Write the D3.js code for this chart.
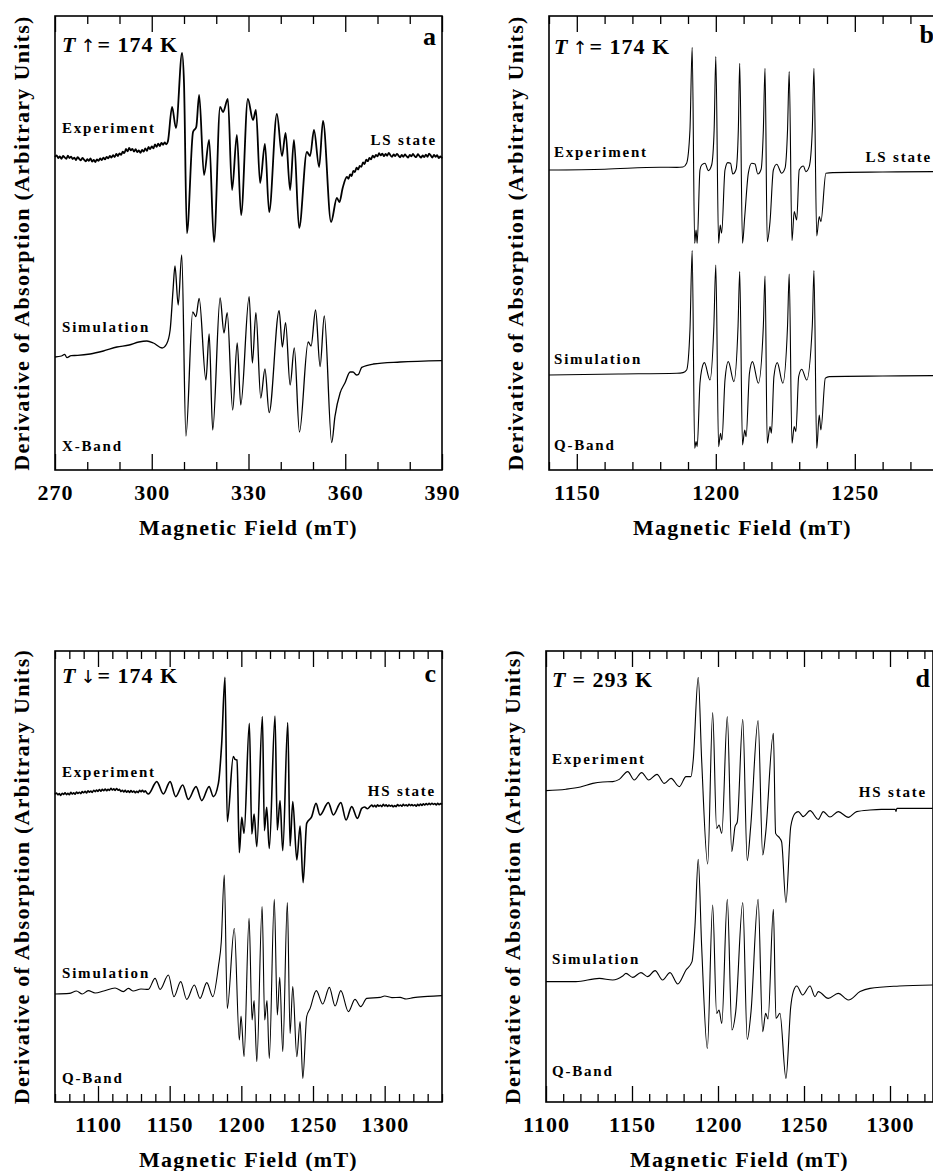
<!DOCTYPE html>
<html>
<head>
<meta charset="utf-8">
<script src="https://cdn.jsdelivr.net/npm/d3@7/dist/d3.min.js"></script>
<style>
  body { margin: 0; background: #fff; }
  svg text { font-family: "Liberation Serif", "Times New Roman", serif; font-weight: bold; fill: #000; }
</style>
</head>
<body>
<div class="epr_figure"></div>
<script>
// EPR spectra, [magnetic field (mT), derivative signal (arb. units, trace offset included)]

// a: X-band, T up = 174 K
var expA = [[270,156.5],[270.5,157.3],[271,156.0],[271.5,156.8],[272,155.6],[272.5,157.0],[273,156.3],[273.5,155.6],[274,157.2],[274.5,156.0],[275,156.7],[275.5,155.5],[276,156.2],[276.5,155.0],[277,156.4],[277.5,155.6],[278,154.8],[278.5,156.0],[279,155.2],[279.5,154.3],[280,155.4],[280.5,154.6],[281,155.8],[281.5,154.2],[282,155.0],[282.5,154.0],[283,155.3],[283.5,154.6],[284,155.8],[284.5,155.0],[285,156.2],[285.5,155.3],[286,156.6],[286.5,155.8],[287,157.0],[287.5,156.2],[288,157.4],[288.5,156.5],[289,158.0],[289.5,157.0],[290,158.3],[290.5,157.6],[291,159.2],[291.5,158.4],[292,160.5],[292.5,159.3],[293,161.0],[293.5,159.8],[294,160.6],[294.5,159.2],[295,160.4],[295.5,159.0],[296,159.8],[296.5,158.6],[297,160.0],[297.5,159.2],[298,160.8],[298.5,159.6],[299,161.5],[299.5,160.4],[300,161.8],[300.5,160.8],[301,162.8],[301.5,161.6],[302,163.2],[302.5,162.0],[303,163.6],[303.5,162.6],[304,163.8],[304.5,162.8],[305,164.2],[306.3,181.5],[307.5,171],[309.4,208.5],[310.0,193.5],[310.9,118.5],[312.8,169],[313.8,171.5],[314.7,187.5],[316.2,147.5],[317.8,165],[319.3,114],[321.2,181.5],[322.1,179],[323.6,185.5],[324.9,140],[326.4,167.5],[327.7,127.5],[329.8,185.5],[331.4,175],[332.3,180],[333.6,143.5],[335.1,163],[336.4,129],[338.8,178],[340.4,157],[341.5,168.5],[342.9,140],[344.1,165],[345.7,121],[348.1,159],[349.1,157],[350.3,170],[351.9,151.5],[353.1,174.5],[355.6,124],[357.4,136],[358.2,134],[359.2,141],[360.5,146.5],[361,145.6],[361.5,147.8],[362,147],[362.5,149.6],[363,149],[363.5,151.2],[364,150.2],[364.5,152],[365,151.6],[365.5,153.8],[366,153],[366.5,155.2],[367,154.4],[367.5,156],[368,155.3],[368.5,157.2],[369,156.2],[369.5,157.6],[370,156.8],[370.5,158.4],[371,157.3],[371.5,158.2],[372,156.9],[372.5,158],[373,157.1],[373.5,158.6],[374,157.4],[374.5,156.6],[375,157.8],[375.5,156.9],[376,158.1],[376.5,157.2],[377,156.3],[377.5,157.5],[378,156.6],[378.5,157.8],[379,156.9],[379.5,156.2],[380,157.6],[380.5,156.8],[381,158],[381.5,157],[382,156.4],[382.5,157.9],[383,157],[383.5,156.2],[384,157.3],[384.5,156.5],[385,157.7],[385.5,156.6],[386,158.2],[386.5,157.3],[387,156.2],[387.5,157.6],[388,156.6],[388.5,157.4],[389,156],[389.5,156.8],[390,155.8]];
var simA = [[270,56.5],[272,57],[273,57.8],[273.7,56.2],[275,57.2],[277,57.3],[280.9,58],[285,59.5],[289.2,61.5],[293,62.5],[296,64],[298.5,64.5],[300.5,63.5],[303.2,61],[304.6,63],[305.7,70],[306.6,90],[307.2,102],[308.2,82.5],[309.3,107.5],[310.6,17],[312.7,79],[313.7,76.7],[314.7,85.8],[316.8,45],[317.8,68],[318.9,20],[321.2,86],[322.4,68.5],[323.4,78.7],[325.1,30],[326.5,63.5],[327.6,32.5],[330.2,86.7],[331.2,53.5],[332.3,78.7],[333.8,36],[335.1,50.5],[336.4,28.7],[339.5,79.7],[340.5,61.5],[341.5,73.7],[342.9,42.5],[344.2,61],[345.8,19],[348.5,64],[349.4,62],[350.8,80],[352.2,51.7],[353.5,77],[355.8,13.7],[356.8,26.7],[358.4,38.5],[359.9,43.5],[361.5,49],[362.4,49],[363.5,47.5],[364.1,47.8],[365.1,51.3],[368.7,53],[377,54],[390,54.7]];

// b: Q-band, T up = 174 K
var expB = [[1140,150],[1160,150.4],[1180,151.4],[1186,151.3],[1188.2,151.5],[1189.5,153.4],[1190.7,170],[1191.5,211.4],[1192.4,113.4],[1192.9,120],[1193.3,113.4],[1194.3,150],[1194.9,152.5],[1196.1,153.4],[1197.3,149.7],[1198.5,152.5],[1199.4,170],[1200.0,206.7],[1201.0,113.4],[1201.6,122.5],[1202.1,118.4],[1203.3,150],[1204.3,153.7],[1205.3,153.4],[1206.1,148],[1207.3,150.4],[1208.1,170],[1208.6,203.4],[1209.6,113.4],[1210.4,126.7],[1211.7,148.4],[1212.9,153.4],[1214.1,153],[1215.1,148],[1216.3,150.4],[1217.1,170],[1217.7,200.9],[1218.5,114.2],[1219.5,124.2],[1220.7,150],[1221.9,152.9],[1223.7,148.4],[1224.9,150.9],[1225.8,170],[1226.4,199.2],[1227.4,114.7],[1228.2,129.2],[1229.1,125],[1230.0,150],[1231.5,152],[1232.4,149.2],[1233.6,151.7],[1234.7,170],[1235.3,200.9],[1236.3,117],[1237.2,126.7],[1237.8,124.2],[1239.6,148.4],[1242.1,148.7],[1260,149],[1280,149.2]];
var simB = [[1140,47.5],[1165,48],[1186,48.4],[1188.2,48.7],[1189.5,50],[1190.7,70],[1191.5,109.7],[1192.4,10.9],[1192.9,14.2],[1193.3,11.7],[1194.3,43.4],[1194.9,50],[1195.9,53.7],[1197.9,45],[1199.3,72],[1200.0,102.5],[1201.0,11.7],[1201.7,18.4],[1202.2,15],[1203.3,45],[1204.5,54.2],[1206.5,44.2],[1208.0,72],[1208.6,99.2],[1209.6,12.5],[1210.4,20],[1210.9,16.7],[1212.1,48.4],[1213.2,54.2],[1215.3,43.4],[1217.1,72],[1217.7,97],[1218.5,13.4],[1219.5,21.7],[1220.0,18.4],[1220.9,46.7],[1222.1,53.7],[1224.1,43.4],[1225.8,72],[1226.4,98],[1227.4,13.4],[1228.2,21.7],[1228.8,19.2],[1229.8,46.7],[1230.9,50.4],[1232.7,45],[1234.7,72],[1235.3,99.7],[1236.3,10.9],[1237.2,27.5],[1237.8,20],[1239.4,45.9],[1240.8,46.7],[1260,47],[1280,47.2]];

// c: Q-band, T down = 174 K
var expC = [[1070,153.8],[1071,154.5],[1072,153.6],[1073,154.2],[1074,153.3],[1075,154.4],[1076,153.8],[1077,154.6],[1078,153.7],[1079,154.3],[1080,153.6],[1081,154.8],[1082,154.0],[1083,154.6],[1084,153.9],[1085,155.0],[1086,154.3],[1087,154.9],[1088,154.2],[1089,155.2],[1090,154.6],[1091,155.3],[1092,154.5],[1093,155.6],[1094,154.9],[1095,155.5],[1096,154.8],[1097,155.9],[1098,155.2],[1099,156.0],[1100,155.3],[1101,156.2],[1102,155.4],[1103,156.3],[1104,155.7],[1105,156.5],[1106,155.6],[1107,156.4],[1108,155.8],[1109,156.9],[1110,156.0],[1111,156.6],[1112,155.8],[1113,156.7],[1114,155.9],[1115,156.3],[1116,155.2],[1117,155.9],[1118,155.0],[1119,155.8],[1120,154.9],[1121,155.6],[1122,154.8],[1123,155.7],[1124,154.9],[1125,155.5],[1126,154.6],[1127,155.4],[1128,154.7],[1129,155.8],[1130,155.1],[1131,155.9],[1132,155.0],[1133,155.6],[1134,154.6],[1135.1,154],[1141,160.2],[1145.6,154],[1150.3,160.2],[1154.2,152.7],[1159.1,158.5],[1163,151.3],[1168.4,157.7],[1172.4,150.7],[1177.5,157.7],[1180.5,152.7],[1184,159.3],[1186.3,179.3],[1188.6,212.3],[1190.2,140.2],[1194.4,172.7],[1195.6,171.3],[1197,171],[1198.6,124.7],[1200.3,142.3],[1201.9,134.3],[1205.6,189.3],[1207.3,134],[1208.9,144],[1210.8,127.7],[1214.7,192.7],[1216.1,135.7],[1217.7,147.3],[1219.5,126.8],[1223.5,193],[1225.1,136],[1227,150.7],[1228.9,125.7],[1232.4,189.7],[1234,128],[1235.9,150.2],[1238.7,121],[1241,138],[1243.1,109.7],[1245.6,139.3],[1249.1,142.7],[1252.1,149.3],[1254.9,143.5],[1260.7,149.7],[1264.2,143.5],[1269.4,149.7],[1273.1,141],[1277,147.7],[1281,141.8],[1284,146.8],[1286,147.5],[1288,146.6],[1290,147.9],[1291,148.5],[1292,147.6],[1293,148.3],[1294,147.5],[1295,148.6],[1296,147.9],[1297,148.4],[1298,147.7],[1299,148.8],[1300,148.0],[1301,148.6],[1302,147.8],[1303,148.5],[1304,147.9],[1305,148.4],[1306,147.6],[1307,148.2],[1308,147.7],[1309,148.7],[1310,148.0],[1311,148.5],[1312,147.9],[1313,148.8],[1314,148.1],[1315,148.6],[1316,148.0],[1317,148.9],[1318,148.2],[1319,148.7],[1320,148.1],[1321,148.6],[1322,147.9],[1323,148.8],[1324,148.2],[1325,149.0],[1326,148.3],[1327,149.1],[1328,148.5],[1329,149.2],[1330,148.6],[1331,149.3],[1332,148.7],[1333,149.4],[1334,148.8],[1335,149.2],[1336,148.5],[1337,149.3],[1338,148.7],[1339,149.2],[1340,148.8]];
var simC = [[1070,54],[1080,54.3],[1085,55.5],[1089,54],[1093.2,55.7],[1098,54.5],[1104,55.5],[1111.9,57],[1117.7,55.2],[1121.2,56.8],[1124.6,55.5],[1130,56.5],[1135.1,56.3],[1139.8,61.8],[1143.3,56.3],[1149.1,63.5],[1153,52.7],[1157.7,60.2],[1161.9,51.3],[1167.2,58.5],[1171.2,51.8],[1175.9,59.7],[1180.1,52.7],[1184,67.7],[1186,80],[1188.1,113.5],[1190.2,46.8],[1195.1,86.8],[1198.6,31],[1199.8,43],[1201.9,22.7],[1205.4,91.8],[1207.5,41],[1208.9,50.7],[1210.8,20.2],[1214.5,97.7],[1216.3,41],[1217.9,50.7],[1219.5,21.8],[1223,101.3],[1225.1,43.5],[1226.8,62.3],[1228.9,25.2],[1232.1,99.7],[1234,34.3],[1235.9,57.7],[1238.7,22.7],[1241,40.2],[1242.9,11.8],[1245.6,42.7],[1248,46.8],[1252.3,55.7],[1256.8,49],[1261.4,57.3],[1265.4,48],[1269.4,55.7],[1274.7,45.2],[1279.3,51.3],[1283.3,47.7],[1287.5,51.8],[1296.8,52.3],[1300,53],[1305,52.2],[1310.8,52.3],[1315,51.5],[1320,52.2],[1330,52.8],[1340,53.2]];

// d: Q-band, T = 293 K
var expD = [[1100,155.7],[1111.6,156.4],[1120,157.5],[1127.2,159.3],[1133,160],[1138.8,160.2],[1142.6,161.3],[1147.5,165.2],[1151.3,161],[1155.6,164.7],[1159.7,161],[1164.5,163.8],[1168.8,159.3],[1172.7,161.8],[1177.5,157.7],[1181.4,162.7],[1184.3,162.7],[1185.6,171],[1188.5,212.3],[1190.5,171],[1194,119],[1196.9,194.7],[1199.2,136.8],[1200.6,138.5],[1202.2,134.3],[1205.4,192.7],[1208,125.2],[1209.9,137.7],[1211.2,140],[1214.4,191.3],[1217,120.7],[1219,137.7],[1223.3,190.7],[1226,123.5],[1227.7,134.3],[1232.2,184.3],[1233.5,134.3],[1236,131.8],[1237,130],[1239.5,99.7],[1242.3,137.7],[1244.8,144.3],[1246.7,145.2],[1249.6,142.7],[1253.5,145.7],[1258.3,141.3],[1261.2,145.2],[1265.1,142.5],[1269.9,145.2],[1275.8,142.3],[1280.6,145.2],[1288.4,146],[1295,146.3],[1303.1,146.3],[1303.5,145.2],[1304,146.8],[1310,146.8],[1324.8,146.8]];
var simD = [[1100,60.2],[1117.4,60.2],[1131,61.8],[1138.8,61],[1144.6,63],[1146.5,64.3],[1150.4,62.3],[1155.2,64.7],[1159.1,62.7],[1163.4,65.7],[1167.8,61],[1172.1,64.7],[1176.6,59],[1181.4,66],[1184.9,70.2],[1186.6,87.7],[1188.5,121.3],[1190.5,77.7],[1193.8,26.8],[1196.9,98.5],[1199.2,44.3],[1200.6,46],[1202.2,39.3],[1205.4,101.3],[1208.1,36],[1210.3,45.2],[1214.4,99.7],[1217,31.3],[1219.2,45.2],[1223.3,101.3],[1226,35.2],[1227.7,44.3],[1229.1,41.5],[1232.2,96.3],[1233.7,41.8],[1236,44.3],[1239.5,11.8],[1242.3,47.7],[1243.8,55.2],[1245.8,58],[1249.2,53.5],[1253.5,58],[1256.4,52.7],[1258.3,55.2],[1264.1,51.8],[1269.9,54.3],[1275.8,51],[1282.6,55.2],[1288.4,56.8],[1305.4,58],[1324.8,58.5]];

// Canvas dimensions
var width = 933,
    height = 1171;

// Panel layout (pixel boxes, axis ranges and annotations)
var panels = [
  { letter: "a", left: 55, top: 16, w: 387, h: 454, xDomain: [270, 390], yMax: 227, major: 30,
    exp: expA, sim: simA, expStroke: 1.8, simStroke: 1.3,
    arrow: "\u2191", temp: "= 174 K", tempPos: [62, 52], letterPos: [436, 45],
    labels: [["Experiment", 62, 133, "start"], ["LS state", 437, 145, "end"], ["Simulation", 62, 332, "start"], ["X-Band", 62, 451, "start"]] },
  { letter: "b", left: 549, top: 16, w: 387, h: 454, xDomain: [1140, 1279.2], yMax: 227, major: 50,
    exp: expB, sim: simB, expStroke: 1.1, simStroke: 1.1,
    arrow: "\u2191", temp: "= 174 K", tempPos: [554, 54], letterPos: [934, 43],
    labels: [["Experiment", 554, 157, "start"], ["LS state", 932, 162, "end"], ["Simulation", 554, 364, "start"], ["Q-Band", 554, 450, "start"]] },
  { letter: "c", left: 55, top: 651, w: 387, h: 451, xDomain: [1070, 1340], yMax: 225.5, major: 50,
    exp: expC, sim: simC, expStroke: 1.6, simStroke: 1.1,
    arrow: "\u2193", temp: "= 174 K", tempPos: [62, 683], letterPos: [436, 682],
    labels: [["Experiment", 62, 777, "start"], ["HS state", 436, 796, "end"], ["Simulation", 62, 978, "start"], ["Q-Band", 62, 1083, "start"]] },
  { letter: "d", left: 546, top: 651, w: 387, h: 451, xDomain: [1100, 1325], yMax: 225.5, major: 50,
    exp: expD, sim: simD, expStroke: 1.1, simStroke: 1.1,
    arrow: null, temp: "= 293 K", tempPos: [552, 687], letterPos: [930, 687],
    labels: [["Experiment", 552, 764, "start"], ["HS state", 927, 797, "end"], ["Simulation", 552, 964, "start"], ["Q-Band", 552, 1076, "start"]] }
];

var svg = d3.select(".epr_figure")
            .append("svg")
            .attr("width", width)
            .attr("height", height);

panels.forEach(function(p) {
  var x = d3.scaleLinear().domain(p.xDomain).range([p.left, p.left + p.w]);
  var y = d3.scaleLinear().domain([0, p.yMax]).range([p.top + p.h, p.top]);

  var minorTicks = d3.range(Math.ceil(p.xDomain[0] / 10) * 10, p.xDomain[1] + 0.01, 10)
                     .filter(function(t) { return t % p.major != 0; });
  var majorTicks = d3.range(Math.ceil(p.xDomain[0] / p.major) * p.major, p.xDomain[1] + 0.01, p.major);

  var g = svg.append("g").attr("class", "panel-" + p.letter);

  //Inward ticks on bottom and top
  function tickRow(axisFn, yPos, values, size, labels) {
    var ax = axisFn(x).tickValues(values).tickSize(-size).tickSizeOuter(0)
                      .tickPadding(14).tickFormat(labels ? d3.format("d") : "");
    var a = g.append("g").attr("transform", "translate(0," + yPos + ")").call(ax);
    a.select(".domain").remove();
    a.selectAll("line").attr("stroke", "#000").attr("stroke-width", 1.3);
    a.selectAll("text").attr("font-size", 22).attr("letter-spacing", 1);
  }
  tickRow(d3.axisBottom, p.top + p.h, minorTicks, 8, false);
  tickRow(d3.axisBottom, p.top + p.h, majorTicks, 16, true);
  tickRow(d3.axisTop, p.top, minorTicks, 8, false);
  tickRow(d3.axisTop, p.top, majorTicks, 16, false);

  //Frame
  g.append("rect")
   .attr("x", p.left).attr("y", p.top)
   .attr("width", p.w).attr("height", p.h)
   .attr("fill", "none").attr("stroke", "#000").attr("stroke-width", 1.6);

  //Spectra
  var line = d3.line()
               .x(function(d) { return x(d[0]); })
               .y(function(d) { return y(d[1]); })
               .curve(d3.curveMonotoneX);

  g.append("path").datum(p.exp)
   .attr("d", line).attr("fill", "none").attr("stroke", "#000")
   .attr("stroke-width", p.expStroke).attr("stroke-linejoin", "round");
  g.append("path").datum(p.sim)
   .attr("d", line).attr("fill", "none").attr("stroke", "#000")
   .attr("stroke-width", p.simStroke).attr("stroke-linejoin", "round");

  //Axis titles
  g.append("text")
   .attr("x", p.left + p.w / 2).attr("y", p.top + p.h + 65)
   .attr("text-anchor", "middle").attr("font-size", 22).attr("letter-spacing", 1.3)
   .text("Magnetic Field (mT)");

  g.append("text")
   .attr("transform", "translate(" + (p.left - 26) + "," + (p.top + p.h / 2) + ") rotate(-90)")
   .attr("text-anchor", "middle").attr("font-size", 22).attr("letter-spacing", 1.3)
   .text("Derivative of Absorption (Arbitrary Units)");

  //Temperature label
  var t = g.append("text").attr("x", p.tempPos[0]).attr("y", p.tempPos[1])
           .attr("font-size", 22).attr("letter-spacing", 1);
  t.append("tspan").attr("font-style", "italic").text("T");
  if (p.arrow) {
    t.append("tspan").attr("font-family", "'DejaVu Sans', sans-serif").attr("font-weight", "normal")
     .attr("font-size", 18).attr("dx", 4).text(p.arrow);
    t.append("tspan").attr("dx", 1).text(p.temp);
  } else {
    t.append("tspan").attr("dx", 6).text(p.temp);
  }

  //Panel letter
  g.append("text")
   .attr("x", p.letterPos[0]).attr("y", p.letterPos[1])
   .attr("text-anchor", "end").attr("font-size", 26)
   .text(p.letter);

  //Trace labels
  p.labels.forEach(function(l) {
    g.append("text")
     .attr("x", l[1]).attr("y", l[2])
     .attr("text-anchor", l[3]).attr("font-size", 15).attr("letter-spacing", 1.8)
     .text(l[0]);
  });
});
</script>
</body>
</html>
